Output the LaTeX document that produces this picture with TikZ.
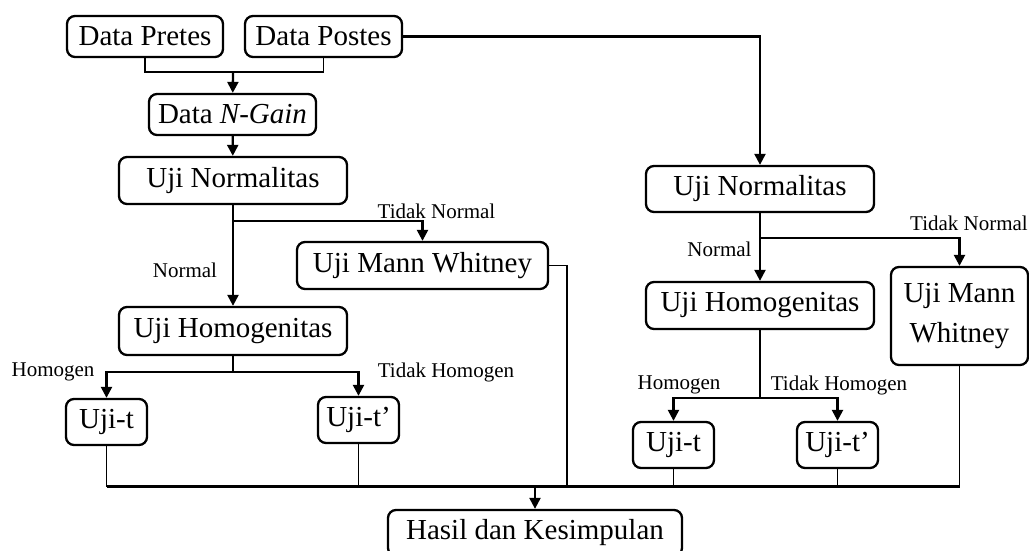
\documentclass[tikz,border=0pt]{standalone}
\usepackage{fontspec}
\setmainfont{Liberation Serif}
\usepackage{tikz}
\usetikzlibrary{arrows.meta, positioning}

\begin{document}
\begin{tikzpicture}[x=0.5pt, y=-0.5pt,
  box/.style={draw, rectangle, rounded corners=4pt, line width=1.15pt, inner sep=1pt,
    font=\fontsize{14.5}{20}\selectfont, align=center},
  lbl/.style={inner sep=0pt, font=\fontsize{10.5}{12}\selectfont},
  arr/.style={-{Triangle[length=5.5pt, width=5.5pt]}, line width=1.15pt},
  ln/.style={line width=0.85pt}]
  \useasboundingbox (0,0) rectangle (1029,551);

  % Nodes
  \node[box, minimum width=78pt, minimum height=20.5pt] (pretes) at (145,36.5) {Data Pretes};
  \node[box, minimum width=78.5pt, minimum height=20.5pt] (postes) at (323.5,36.5) {Data Postes};
  \node[box, minimum width=83.5pt, minimum height=20.5pt] (ngain) at (232.5,114.5) {Data \textit{N-Gain}};
  \node[box, minimum width=114pt, minimum height=23.5pt] (normL) at (233,180.5) {Uji Normalitas};
  \node[box, minimum width=125.5pt, minimum height=23.5pt] (mwL) at (422.5,265.5) {Uji Mann Whitney};
  \node[box, minimum width=114pt, minimum height=24pt] (homL) at (233,331) {Uji Homogenitas};
  \node[box, minimum width=40.5pt, minimum height=23pt] (utL) at (106.5,422) {Uji-t};
  \node[box, minimum width=40.5pt, minimum height=23pt] (utpL) at (358.5,420) {Uji-t'};
  \node[box, minimum width=114pt, minimum height=23pt] (normR) at (760,189) {Uji Normalitas};
  \node[box, minimum width=114pt, minimum height=23.5pt] (homR) at (760,305.5) {Uji Homogenitas};
  \node[box, minimum width=68.5pt, minimum height=49pt] (mwR) at (959.5,316) {Uji Mann\\Whitney};
  \node[box, minimum width=40.5pt, minimum height=23pt] (utR) at (673.5,445) {Uji-t};
  \node[box, minimum width=40.5pt, minimum height=23pt] (utpR) at (837.5,445) {Uji-t'};
  \node[box, minimum width=147pt, minimum height=23pt] (hasil) at (535,533) {Hasil dan Kesimpulan};

  % Labels
  \node[lbl] (lnormL) at (185,270) {Normal};
  \node[lbl] (ltnormL) at (436.5,211) {Tidak Normal};
  \node[lbl] (lhomL) at (53,372) {Homogen};
  \node[lbl] (lthomL) at (446,372) {Tidak Homogen};
  \node[lbl] (lnormR) at (719.5,249) {Normal};
  \node[lbl] (ltnormR) at (969,223) {Tidak Normal};
  \node[lbl] (lhomR) at (679,385) {Homogen};
  \node[lbl] (lthomR) at (839,385) {Tidak Homogen};

  % Branch points
  \coordinate (j1) at (233,72);
  \coordinate (b1) at (233,221);
  \coordinate (b2) at (233,372);
  \coordinate (b3) at (760,238);
  \coordinate (b4) at (760,398);
  \coordinate (bus) at (535,486.5);
  \coordinate (k1) at (567,486.5);

  % Arrows
  \draw[ln] (pretes.south) |- (j1) -| (postes.south);
  \draw[arr] (j1) -- (ngain);
  \draw[arr] (ngain) -- (normL);
  \draw[arr] (postes.east) -| (normR.north);
  \draw[arr] (normL) -- (homL);
  \draw[arr] (b1) -| (mwL.north);
  \draw[ln] (homL) -- (b2);
  \draw[arr] (b2) -| (utL.north);
  \draw[arr] (b2) -| (utpL.north);
  \draw[arr] (normR) -- (homR);
  \draw[arr] (b3) -| (mwR.north);
  \draw[ln] (homR) -- (b4);
  \draw[arr] (b4) -| (utR.north);
  \draw[arr] (b4) -| (utpR.north);

  % Lines to result
  \draw[ln] (mwL.east) -| (k1);
  \draw[ln] (utL.south) -- (utL.south |- bus);
  \draw[ln] (utpL.south) -- (utpL.south |- bus);
  \draw[ln] (utR.south) -- (utR.south |- bus);
  \draw[ln] (utpR.south) -- (utpR.south |- bus);
  \draw[ln] (mwR.south) -- (mwR.south |- bus);
  \draw[line width=1.15pt] (utL.south |- bus) -- (mwR.south |- bus);
  \draw[arr] (bus) -- (hasil);
\end{tikzpicture}
\end{document}
